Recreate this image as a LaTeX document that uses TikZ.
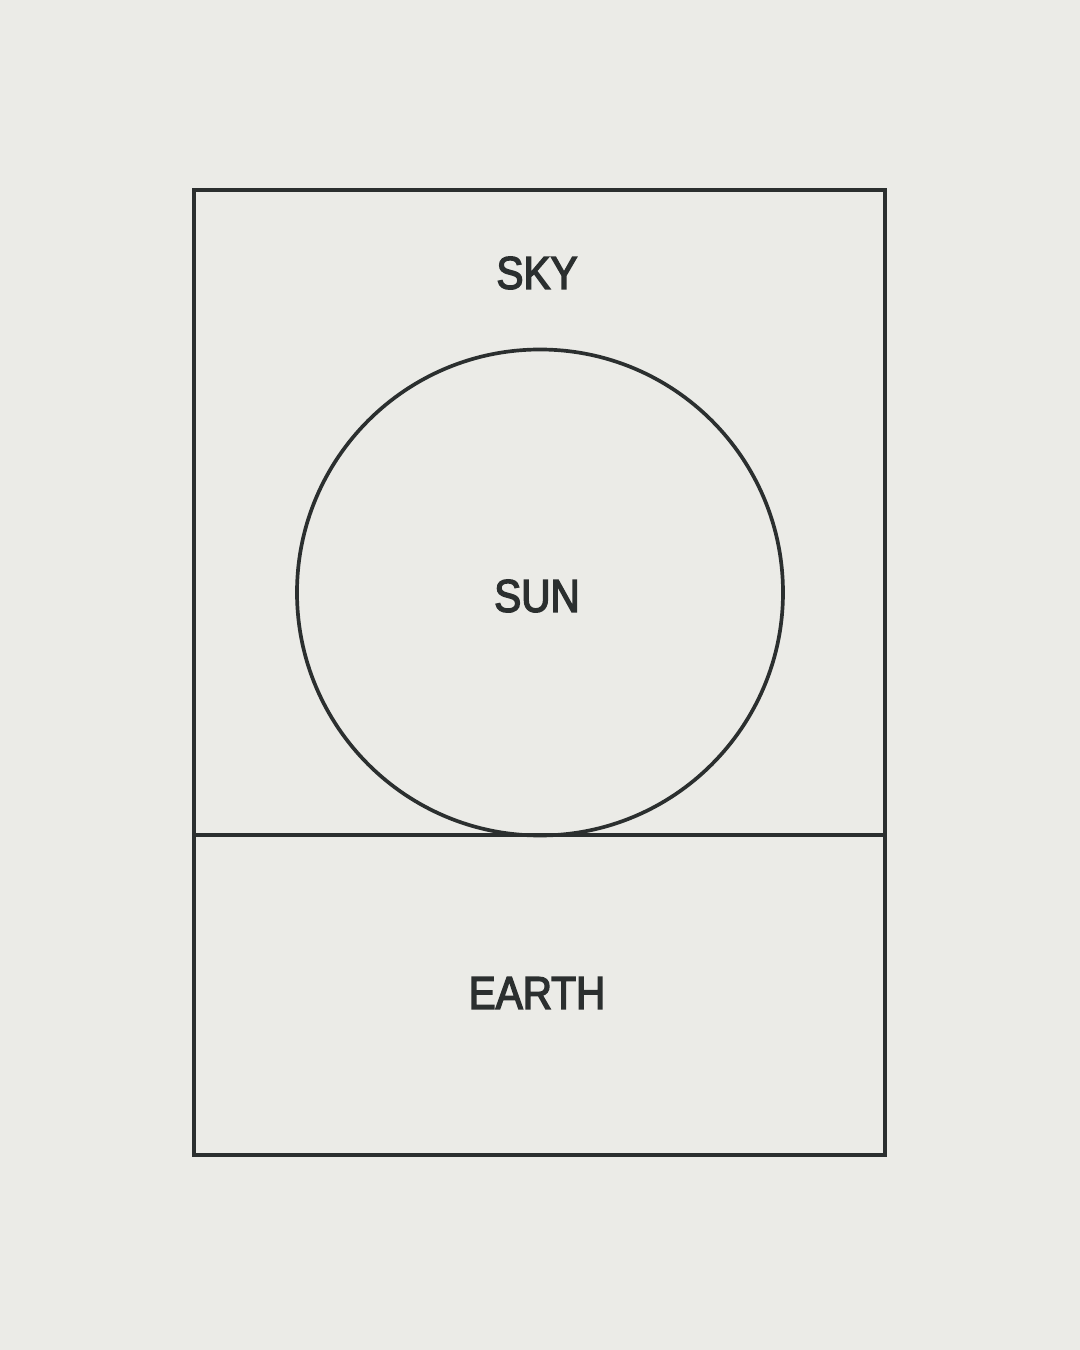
\documentclass[tikz,border=0pt]{standalone}
\usepackage{fontspec}
\setmainfont{Liberation Sans}[FakeStretch=0.88,FakeBold=3]
\definecolor{paper}{HTML}{EBEBE7}
\definecolor{ink}{HTML}{2B2F2F}
\begin{document}
\begin{tikzpicture}[font=\fontsize{13.1}{15}\selectfont,
		box/.style={draw=ink, line width=1.05pt, inner sep=0pt},
		word/.style={text=ink, inner sep=0pt}]
		\fill[paper] (0,0) rectangle (10.8,13.5);
		\useasboundingbox (0,0) rectangle (10.8,13.5);
		
		\node[box, minimum width=6.91cm, minimum height=6.45cm] (sky) at (5.395,8.375) {};
		\node[box, minimum width=6.91cm, minimum height=3.20cm] (earth) at (5.395,3.55) {};
		\node[box, circle, minimum size=4.86cm] (sun) at (5.40,7.575) {};
		
		\node[word] (skylabel) at (5.37,10.77) {SKY};
		\node[word] (sunlabel) at (5.37,7.54) {SUN};
		\node[word] (earthlabel) at (5.37,3.57) {EARTH};
	\end{tikzpicture}
\end{document}
